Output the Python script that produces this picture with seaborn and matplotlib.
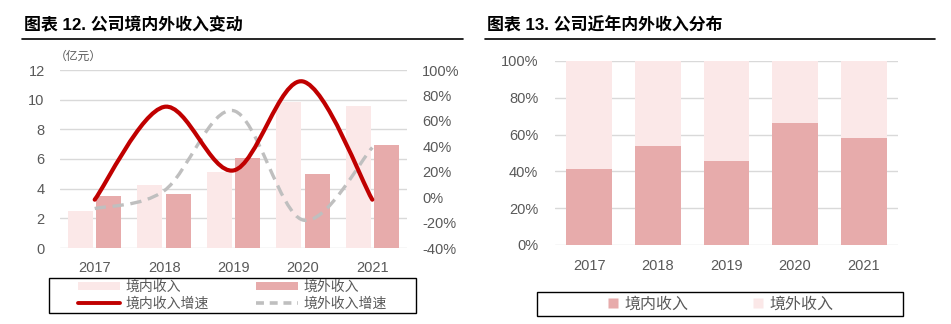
import numpy as np
import pandas as pd
import matplotlib
matplotlib.use("Agg")
import matplotlib.pyplot as plt
import seaborn as sns
from matplotlib.path import Path
from matplotlib.patches import PathPatch, Patch, Rectangle
from matplotlib.lines import Line2D
from matplotlib.ticker import FuncFormatter

# ---------------- data ----------------
years = ["2017", "2018", "2019", "2020", "2021"]
domestic_rev = [2.48, 4.23, 5.13, 9.82, 9.60]      # 境内收入 (亿元)
overseas_rev = [3.49, 3.63, 6.10, 4.98, 6.94]      # 境外收入 (亿元)
domestic_growth = [-2, 71, 21, 91, -2]             # 境内收入增速 (%)
overseas_growth = [-9, 5, 68, -18, 39]             # 境外收入增速 (%)
domestic_share = [41.5, 53.8, 45.7, 66.5, 58.0]    # 境内收入占比 (%)
overseas_share = [58.5, 46.2, 54.3, 33.5, 42.0]    # 境外收入占比 (%)

LIGHT = "#FBE8E8"
DARK = "#E7ABAB"
RED = "#C00000"
GRAYL = "#BFBFBF"
TICK = "#595959"
GRID = "#D9D9D9"

sns.set_theme(style="white")
plt.rcParams["font.family"] = ["Liberation Sans", "Noto Sans CJK SC", "DejaVu Sans"]

W, H = 951, 324
fig = plt.figure(figsize=(W / 100, H / 100), dpi=100)


def fax(x0, y0, x1, y1):
    return [x0 / W, 1 - y1 / H, (x1 - x0) / W, (y1 - y0) / H]


def smooth_path(xs, ys):
    pts = np.column_stack([xs, ys]).astype(float)
    n = len(pts)
    verts = [pts[0]]
    codes = [Path.MOVETO]
    for i in range(n - 1):
        p0 = pts[i - 1] if i > 0 else pts[i]
        p1 = pts[i]
        p2 = pts[i + 1]
        p3 = pts[i + 2] if i + 2 < n else pts[i + 1]
        c1 = p1 + (p2 - p0) / 6.0
        c2 = p2 - (p3 - p1) / 6.0
        verts += [c1, c2, p2]
        codes += [Path.CURVE4] * 3
    return Path(verts, codes)


# ---------------- titles and rules ----------------
fig.text(24 / W, 1 - 25 / H, "图表 12. 公司境内外收入变动", fontsize=12.2,
         fontweight="bold", va="center", ha="left", color="black")
fig.text(487 / W, 1 - 25 / H, "图表 13. 公司近年内外收入分布", fontsize=12.2,
         fontweight="bold", va="center", ha="left", color="black")
fig.add_artist(Line2D([22 / W, 463 / W], [1 - 38.5 / H] * 2, color="black", lw=1.2,
                      transform=fig.transFigure))
fig.add_artist(Line2D([485 / W, 935 / W], [1 - 38.5 / H] * 2, color="black", lw=1.2,
                      transform=fig.transFigure))

# ---------------- left chart ----------------
ax = fig.add_axes(fax(60, 70, 407, 248))
df_left = pd.DataFrame({
    "year": years * 2,
    "value": domestic_rev + overseas_rev,
    "kind": ["境内收入"] * 5 + ["境外收入"] * 5,
})
sns.barplot(data=df_left, x="year", y="value", hue="kind", order=years,
            hue_order=["境内收入", "境外收入"], palette=[LIGHT, DARK],
            width=0.82, gap=0.12, linewidth=0, saturation=1, legend=False, ax=ax)
ax.set_ylim(0, 12)
ax.set_yticks(range(0, 13, 2))
ax.set_xlim(-0.5, 4.5)
ax.set_xlabel("")
ax.set_ylabel("")
ax.grid(axis="y", color=GRID, lw=1)
ax.set_axisbelow(True)
for s in ax.spines.values():
    s.set_visible(False)
ax.tick_params(axis="y", colors=TICK, labelsize=10.5, length=0, pad=11)
ax.tick_params(axis="x", colors=TICK, labelsize=10.5, length=0, pad=9)

ax2 = ax.twinx()
ax2.set_ylim(-40, 100)
ax2.set_yticks(range(-40, 101, 20))
ax2.yaxis.set_major_formatter(FuncFormatter(lambda v, p: f"{int(v)}%"))
for s in ax2.spines.values():
    s.set_visible(False)
ax2.tick_params(axis="y", colors=TICK, labelsize=10.5, length=0, pad=11)
ax2.grid(False)
xs = np.arange(len(years))
ax2.add_patch(PathPatch(smooth_path(xs, overseas_growth), fill=False, edgecolor=GRAYL,
                        lw=2.4, linestyle=(0, (3.4, 2.0)), capstyle="butt"))
ax2.add_patch(PathPatch(smooth_path(xs, domestic_growth), fill=False, edgecolor=RED,
                        lw=3.0, capstyle="round"))

fig.text(55 / W, 1 - 57 / H, "（亿元）", fontsize=8.5, color=TICK, va="center", ha="left")

# legend left
fig.add_artist(Rectangle((49 / W, 1 - 313 / H), 367 / W, 35 / H, fill=False,
                         edgecolor="black", lw=1.0, transform=fig.transFigure))
handles = [Patch(facecolor=LIGHT, edgecolor="none"),
           Line2D([], [], color=RED, lw=2.8),
           Patch(facecolor=DARK, edgecolor="none"),
           Line2D([], [], color=GRAYL, lw=2.6, linestyle=(0, (2.2, 1.6)))]
labels = ["境内收入", "境内收入增速", "境外收入", "境外收入增速"]
fig.legend(handles, labels, ncol=2, loc="center",
           bbox_to_anchor=(232.5 / W, 1 - 295.5 / H), frameon=False,
           fontsize=10, handlelength=3.0, handleheight=0.55, handletextpad=0.4,
           columnspacing=3.4, labelspacing=0.2, borderpad=0, labelcolor=TICK)

# ---------------- right chart ----------------
bx = fig.add_axes(fax(555, 61, 898, 245))
total_share = [d + o for d, o in zip(domestic_share, overseas_share)]
sns.barplot(x=years, y=total_share, color=LIGHT, width=0.67, linewidth=0,
            saturation=1, ax=bx)
sns.barplot(x=years, y=domestic_share, color=DARK, width=0.67, linewidth=0,
            saturation=1, ax=bx)
bx.set_ylim(0, 100)
bx.set_xlim(-0.5, 4.5)
bx.set_yticks(range(0, 101, 20))
bx.yaxis.set_major_formatter(FuncFormatter(lambda v, p: f"{int(v)}%"))
bx.grid(axis="y", color=GRID, lw=1)
bx.set_axisbelow(True)
for s in bx.spines.values():
    s.set_visible(False)
bx.tick_params(axis="y", colors=TICK, labelsize=10.5, length=0, pad=12)
bx.tick_params(axis="x", colors=TICK, labelsize=10.5, length=0, pad=10)
bx.set_xlabel("")
bx.set_ylabel("")

fig.add_artist(Rectangle((537 / W, 1 - 316 / H), 366 / W, 24 / H, fill=False,
                         edgecolor="black", lw=1.0, transform=fig.transFigure))
rh = [Line2D([], [], marker="s", color="none", markerfacecolor=DARK,
             markeredgecolor="none", markersize=6.5),
      Line2D([], [], marker="s", color="none", markerfacecolor=LIGHT,
             markeredgecolor="none", markersize=6.5)]
fig.legend(rh, ["境内收入", "境外收入"], ncol=2, loc="center",
           bbox_to_anchor=(720 / W, 1 - 304 / H), frameon=False, fontsize=11.5,
           handlelength=0.8, handletextpad=0.3, columnspacing=4.0, borderpad=0,
           labelcolor=TICK)

fig.savefig("out.png", dpi=100)
